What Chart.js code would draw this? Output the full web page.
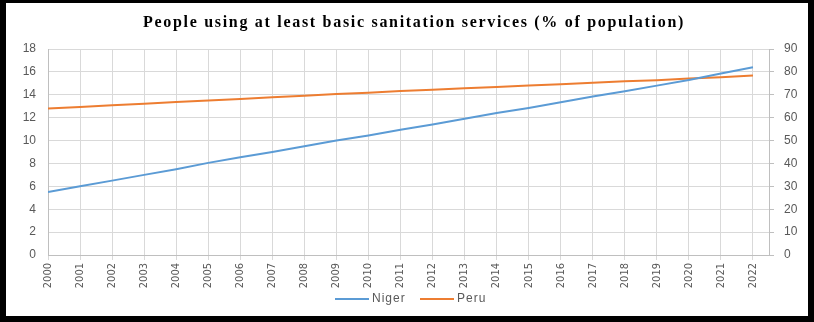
<!DOCTYPE html>
<html>
<head>
<meta charset="utf-8">
<script src="https://cdn.jsdelivr.net/npm/chart.js@4.4.1/dist/chart.umd.min.js"></script>
<style>
  html, body { margin: 0; padding: 0; background: #000; overflow: hidden; }
  #wrap { position: absolute; left: 0; top: 0; width: 814px; height: 322px; }
</style>
</head>
<body>
<div id="wrap"><canvas id="chart" width="814" height="322"></canvas></div>
<script>
// ─── Data ────────────────────────────────────────────────────────────────────
const YEARS = [2000, 2001, 2002, 2003, 2004, 2005, 2006, 2007, 2008, 2009, 2010, 2011,
               2012, 2013, 2014, 2015, 2016, 2017, 2018, 2019, 2020, 2021, 2022];
// Niger -> left axis (0..18)
const NIGER = [5.5, 6.0, 6.5, 7.0, 7.5, 8.05, 8.55, 9.0, 9.5, 10.0, 10.45, 10.95,
               11.4, 11.9, 12.4, 12.85, 13.35, 13.85, 14.3, 14.8, 15.3, 15.85, 16.4];
// Peru -> right axis (0..90)
const PERU  = [64.0, 64.7, 65.4, 66.1, 66.8, 67.5, 68.2, 68.9, 69.6, 70.3, 70.9, 71.6,
               72.2, 72.9, 73.4, 74.1, 74.6, 75.3, 75.9, 76.4, 77.1, 77.7, 78.4];
const TITLE = 'People using at least basic sanitation services (% of population)';

const LABEL_COLOR = '#595959';
const GRID_COLOR  = '#D9D9D9';
const AXIS_COLOR  = '#BFBFBF';
const FONT = 'Liberation Sans, Arial, sans-serif';

function pts(vals) {
  return vals.map(function(v, i) { return { x: YEARS[i], y: v }; });
}

// black frame + white panel, title, legend
var framePlugin = {
  id: 'frame',
  beforeDraw: function(chart) {
    var ctx = chart.ctx;
    ctx.save();
    ctx.fillStyle = '#000';
    ctx.fillRect(0, 0, chart.width, chart.height);
    ctx.fillStyle = '#fff';
    ctx.fillRect(6, 3, 802, 313);
    ctx.restore();
  },
  afterDraw: function(chart) {
    var ctx = chart.ctx;
    ctx.save();
    ctx.fillStyle = '#000';
    ctx.font = 'bold 16px "Liberation Serif", "Times New Roman", serif';
    ctx.letterSpacing = '1.7px';
    ctx.textAlign = 'center';
    ctx.textBaseline = 'middle';
    ctx.fillText(TITLE, 414, 23);

    // legend
    var items = [
      { x: 335, ds: chart.data.datasets[0] },
      { x: 420, ds: chart.data.datasets[1] }
    ];
    ctx.font = '12px ' + FONT;
    ctx.letterSpacing = '1px';
    ctx.textAlign = 'left';
    items.forEach(function(it) {
      ctx.strokeStyle = it.ds.borderColor;
      ctx.lineWidth = 2;
      ctx.beginPath();
      ctx.moveTo(it.x, 299);
      ctx.lineTo(it.x + 34, 299);
      ctx.stroke();
      ctx.fillStyle = LABEL_COLOR;
      ctx.fillText(it.ds.label, it.x + 37, 299);
    });
    ctx.restore();
  }
};

new Chart(document.getElementById('chart').getContext('2d'), {
  type: 'line',
  plugins: [framePlugin],
  data: {
    datasets: [
      {
        label: 'Niger',
        data: pts(NIGER),
        yAxisID: 'y',
        borderColor: '#5B9BD5',
        borderWidth: 2,
        pointRadius: 0,
        tension: 0,
        fill: false
      },
      {
        label: 'Peru',
        data: pts(PERU),
        yAxisID: 'y1',
        borderColor: '#ED7D31',
        borderWidth: 2,
        pointRadius: 0,
        tension: 0,
        fill: false
      }
    ]
  },
  options: {
    responsive: false,
    animation: false,
    layout: { padding: { top: 49, left: 0, right: 0, bottom: 0 } },
    plugins: {
      legend: { display: false },
      title: { display: false },
      tooltip: { enabled: false }
    },
    scales: {
      x: {
        type: 'linear',
        min: 2000,
        max: 2022.5,
        afterBuildTicks: function(scale) {
          scale.ticks = YEARS.map(function(y) { return { value: y }; });
        },
        afterFit: function(scale) { scale.height = 67; },
        ticks: {
          autoSkip: false,
          minRotation: 90,
          maxRotation: 90,
          padding: 3,
          color: LABEL_COLOR,
          font: { size: 11, family: '"Liberation Sans Narrow", "DejaVu Sans Condensed", Arial, sans-serif' },
          callback: function(v) { return String(v); }
        },
        grid: { color: GRID_COLOR, lineWidth: 1, tickLength: 5, drawTicks: true },
        border: { color: AXIS_COLOR }
      },
      y: {
        position: 'left',
        min: 0,
        max: 18,
        afterFit: function(scale) { scale.width = 48; },
        ticks: { stepSize: 2, padding: 12, color: LABEL_COLOR, font: { size: 12, family: FONT } },
        grid: { color: GRID_COLOR, drawTicks: false },
        border: { color: AXIS_COLOR }
      },
      y1: {
        position: 'right',
        min: 0,
        max: 90,
        afterFit: function(scale) { scale.width = 45; },
        ticks: { stepSize: 10, padding: 10, color: LABEL_COLOR, font: { size: 12, family: FONT } },
        grid: { drawOnChartArea: false, color: AXIS_COLOR, tickLength: 5 },
        border: { color: AXIS_COLOR }
      }
    }
  }
});
</script>
</body>
</html>
